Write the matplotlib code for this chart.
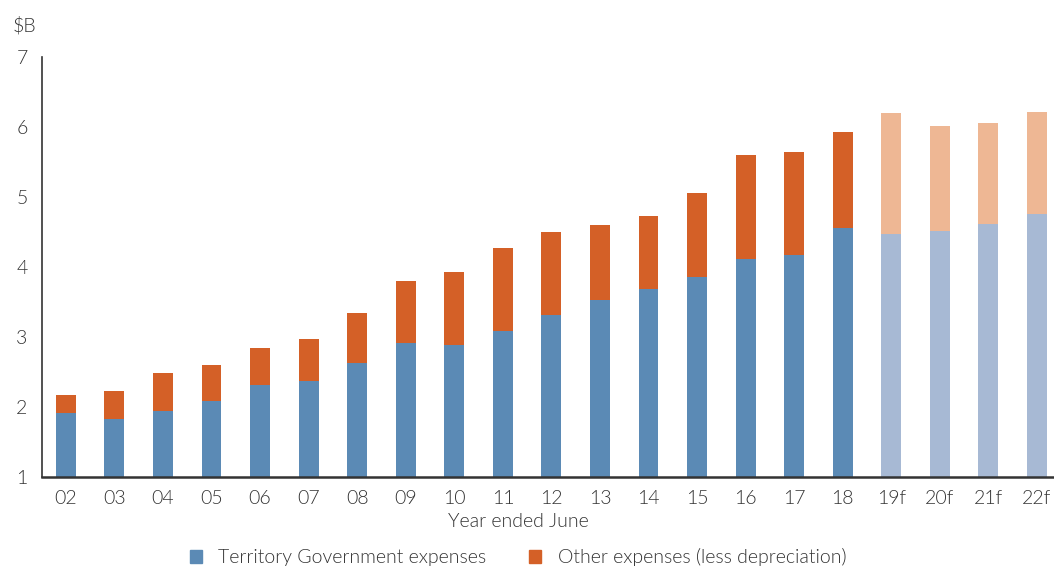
import matplotlib
matplotlib.use("Agg")
import matplotlib.pyplot as plt
from matplotlib.patches import Patch

plt.rcParams['font.family'] = ['Lato', 'DejaVu Sans']
plt.rcParams['font.weight'] = 300

years = ["02", "03", "04", "05", "06", "07", "08", "09", "10", "11", "12",
         "13", "14", "15", "16", "17", "18", "19f", "20f", "21f", "22f"]
govt = [1.91, 1.83, 1.94, 2.09, 2.31, 2.37, 2.63, 2.91, 2.89, 3.09, 3.31,
        3.53, 3.69, 3.86, 4.11, 4.17, 4.56, 4.47, 4.51, 4.61, 4.76]
total = [2.17, 2.23, 2.49, 2.60, 2.84, 2.97, 3.34, 3.80, 3.93, 4.27, 4.50,
         4.60, 4.73, 5.06, 5.60, 5.64, 5.93, 6.20, 6.01, 6.06, 6.21]
forecast = [y.endswith("f") for y in years]

BLUE, ORANGE = "#5b8ab5", "#d46027"
BLUE_F, ORANGE_F = "#a7b9d4", "#eeb794"
TEXT = "#333333"
FS = 14

fig = plt.figure(figsize=(10.54, 5.67), dpi=100)
ax = fig.add_axes([41.5 / 1054, 1 - 477 / 567, 1 - 41.5 / 1054, 420 / 567])

x = list(range(len(years)))
base = 1.0
other = [t - g for t, g in zip(total, govt)]
ax.bar(x, [g - base for g in govt], bottom=base, width=0.41,
       color=[BLUE_F if f else BLUE for f in forecast], linewidth=0)
ax.bar(x, other, bottom=govt, width=0.41,
       color=[ORANGE_F if f else ORANGE for f in forecast], linewidth=0)

ax.set_ylim(1, 7)
ax.set_xlim(-0.5, len(years) - 0.65)
ax.set_yticks(range(1, 8))
ax.set_xticks(x)
ax.set_xticklabels(years)
ax.tick_params(axis='both', length=0, labelsize=FS, labelcolor=TEXT)
ax.tick_params(axis='x', pad=9)
ax.tick_params(axis='y', pad=10)
for lab in ax.get_xticklabels() + ax.get_yticklabels():
    lab.set_fontweight(300)

for s in ("top", "right"):
    ax.spines[s].set_visible(False)
ax.spines["left"].set_color("#333333")
ax.spines["left"].set_linewidth(1.2)
ax.spines["bottom"].set_color("#333333")
ax.spines["bottom"].set_linewidth(1.8)

ax.set_xlabel("Year ended June", fontsize=FS, color=TEXT, fontweight=300, labelpad=4)
ax.xaxis.set_label_coords((518 - 41.5) / (1054 - 41.5), -0.085)
fig.text(13 / 1054, 1 - 25 / 567, "$B", fontsize=FS, color=TEXT, fontweight=300,
         va='center', ha='left')

handles = [Patch(color=BLUE, label="Territory Government expenses"),
           Patch(color=ORANGE, label="Other expenses (less depreciation)")]
leg = fig.legend(handles=handles, loc='center', bbox_to_anchor=(518 / 1054, 1 - 557 / 567),
                 ncol=2, frameon=False, fontsize=FS, handlelength=0.62, handleheight=0.62,
                 handletextpad=0.85, columnspacing=2.2)
for t in leg.get_texts():
    t.set_color(TEXT)
    t.set_fontweight(300)

fig.savefig("out.png", dpi=100)
